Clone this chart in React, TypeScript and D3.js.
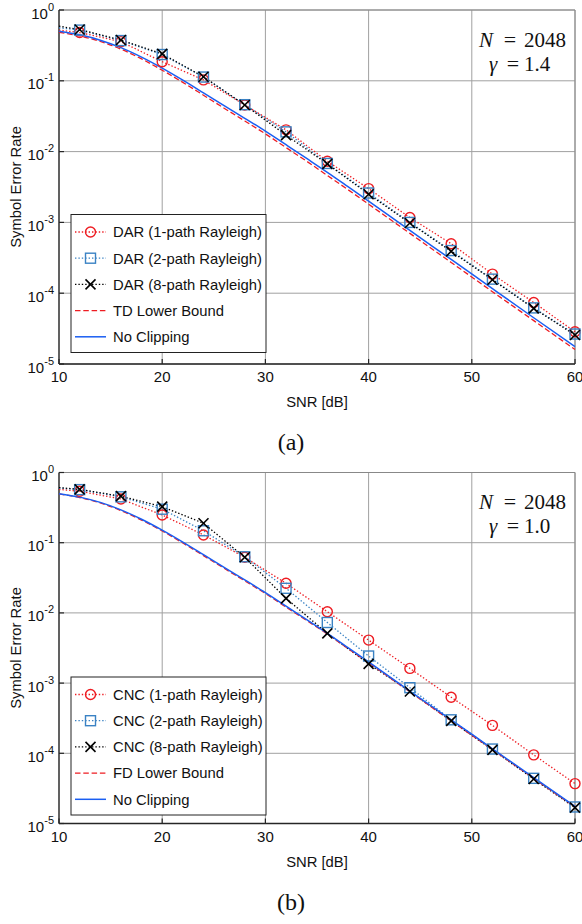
import React from 'react';
import * as d3 from 'd3';

// ---------- data ----------
const snrMarked = [10, 12, 16, 20, 24, 28, 32, 36, 40, 44, 48, 52, 56, 60];
const snrFine = [10, 12, 14, 16, 18, 20, 22, 24, 26, 28, 30, 32, 34, 36, 38, 40, 44, 48, 52, 56, 60];

const darPath1 = [0.52, 0.48, 0.357, 0.186, 0.103, 0.0455, 0.0203, 0.0073, 0.003, 0.00117, 0.0005, 0.000186, 7.4e-5, 2.85e-5];
const darPath2 = [0.56, 0.52, 0.37, 0.235, 0.113, 0.046, 0.019, 0.0068, 0.0026, 0.001, 0.0004, 0.000158, 6.2e-5, 2.65e-5];
const darPath8 = [0.59, 0.53, 0.377, 0.24, 0.114, 0.0455, 0.0171, 0.0067, 0.0025, 0.00098, 0.00039, 0.000155, 6.1e-5, 2.57e-5];

const cncPath1 = [0.575, 0.54, 0.42, 0.248, 0.129, 0.062, 0.0264, 0.0104, 0.0041, 0.00162, 0.00063, 0.00025, 9.5e-5, 3.7e-5];
const cncPath2 = [0.6, 0.57, 0.45, 0.3, 0.148, 0.063, 0.0224, 0.0073, 0.00243, 0.00086, 0.0003, 0.000115, 4.4e-5, 1.72e-5];
const cncPath8 = [0.61, 0.575, 0.46, 0.326, 0.189, 0.062, 0.0161, 0.0051, 0.00188, 0.00076, 0.00029, 0.000112, 4.3e-5, 1.68e-5];

const noClipping = [0.5, 0.446, 0.375, 0.294, 0.216, 0.151, 0.102, 0.0675, 0.0445, 0.0295, 0.0195, 0.0125, 0.008, 0.0051, 0.0032, 0.002, 0.00077, 0.0003, 0.000116, 4.5e-5, 1.76e-5];
const tdBound = [0.485, 0.43, 0.36, 0.28, 0.204, 0.141, 0.095, 0.0625, 0.041, 0.0271, 0.0178, 0.0114, 0.0073, 0.0046, 0.0029, 0.00181, 0.0007, 0.000272, 0.000105, 4.1e-5, 1.6e-5];
const fdBound = [0.495, 0.44, 0.368, 0.287, 0.21, 0.147, 0.099, 0.0655, 0.0432, 0.0286, 0.0189, 0.0121, 0.0078, 0.005, 0.0031, 0.00195, 0.00075, 0.00029, 0.000113, 4.4e-5, 1.72e-5];

const xTicks = [10, 20, 30, 40, 50, 60];
const yTickExps = [0, -1, -2, -3, -4, -5];

const legendA = ['DAR (1-path Rayleigh)', 'DAR (2-path Rayleigh)', 'DAR (8-path Rayleigh)', 'TD Lower Bound', 'No Clipping'];
const legendB = ['CNC (1-path Rayleigh)', 'CNC (2-path Rayleigh)', 'CNC (8-path Rayleigh)', 'FD Lower Bound', 'No Clipping'];

const xLabel = 'SNR [dB]';
const yLabel = 'Symbol Error Rate';
const nText = '2048';

// ---------- styles ----------
const RED = '#ee1c22';
const SQBLUE = '#3a82c4';
const LINEBLUE = '#1a5ef2';
const BLACK = '#000';
const SANS = '"Liberation Sans", Arial, Helvetica, sans-serif';
const SERIF = '"Liberation Serif", "Times New Roman", Times, serif';

type Marker = 'circle' | 'square' | 'x' | 'none';

function MarkerGlyph({ kind, x, y, color }: { kind: Marker; x: number; y: number; color: string }) {
  const s = 5;
  if (kind === 'circle') return <circle cx={x} cy={y} r={s} fill="none" stroke={color} strokeWidth={1.4} />;
  if (kind === 'square') return <rect x={x - s} y={y - s} width={2 * s} height={2 * s} fill="none" stroke={color} strokeWidth={1.4} />;
  if (kind === 'x')
    return (
      <g stroke={color} strokeWidth={1.6}>
        <line x1={x - s} y1={y - s} x2={x + s} y2={y + s} />
        <line x1={x - s} y1={y + s} x2={x + s} y2={y - s} />
      </g>
    );
  return null;
}

interface SeriesDef {
  xs: number[];
  ys: number[];
  color: string;
  dash: string;
  width: number;
  marker: Marker;
  smooth: boolean;
}

function Panel({ top, bottom, series, legend, gamma, caption }: {
  top: number; bottom: number; series: SeriesDef[]; legend: string[]; gamma: string; caption: string;
}) {
  const left = 59;
  const right = 575;
  const x = d3.scaleLinear().domain([10, 60]).range([left, right]);
  const y = d3.scaleLog().domain([1, 1e-5]).range([top, bottom]);
  const straight = d3.line<[number, number]>().x(d => x(d[0])).y(d => y(d[1]));
  const smooth = d3.line<[number, number]>().x(d => x(d[0])).y(d => y(d[1])).curve(d3.curveMonotoneX);

  const lgTop = top + 204.5;
  const lgLeft = 71;
  const lgW = 195;
  const lgH = 138;
  const rowGap = 26.2;

  return (
    <g>
      {/* grid */}
      {xTicks.map(t => (
        <line key={'gx' + t} x1={x(t)} x2={x(t)} y1={top} y2={bottom} stroke="#a0a0a0" strokeWidth={1} />
      ))}
      {yTickExps.map(e => (
        <line key={'gy' + e} x1={left} x2={right} y1={y(Math.pow(10, e))} y2={y(Math.pow(10, e))} stroke="#a0a0a0" strokeWidth={1} />
      ))}
      {/* box */}
      <line x1={left} x2={right} y1={top} y2={top} stroke="#888" strokeWidth={1} />
      <line x1={right} x2={right} y1={top} y2={bottom} stroke="#888" strokeWidth={1} />
      <line x1={left} x2={left} y1={top} y2={bottom} stroke="#262626" strokeWidth={1.3} />
      <line x1={left} x2={right} y1={bottom} y2={bottom} stroke="#262626" strokeWidth={1.3} />
      {/* ticks */}
      {xTicks.map(t => (
        <line key={'tx' + t} x1={x(t)} x2={x(t)} y1={bottom} y2={bottom - 5} stroke="#262626" strokeWidth={1.2} />
      ))}
      {yTickExps.map(e => (
        <line key={'ty' + e} x1={left} x2={left + 5} y1={y(Math.pow(10, e))} y2={y(Math.pow(10, e))} stroke="#262626" strokeWidth={1.2} />
      ))}
      {/* tick labels */}
      {xTicks.map(t => (
        <text key={'lx' + t} x={x(t)} y={bottom + 18} textAnchor="middle" fontFamily={SANS} fontSize={15} fill="#111">{t}</text>
      ))}
      {yTickExps.map(e => (
        <text key={'ly' + e} x={54} y={y(Math.pow(10, e)) + 8.5} textAnchor="end" fontFamily={SANS} fontSize={15} fill="#111">
          10<tspan dy={-8} fontSize={11}>{e === 0 ? '0' : '-' + Math.abs(e)}</tspan>
        </text>
      ))}
      {/* axis labels */}
      <text x={(left + right) / 2} y={bottom + 43} textAnchor="middle" fontFamily={SANS} fontSize={14.8} fill="#111">{xLabel}</text>
      <text transform={`translate(21,${(top + bottom) / 2}) rotate(-90)`} textAnchor="middle" fontFamily={SANS} fontSize={14.8} fill="#111">{yLabel}</text>

      {/* series */}
      {series.map((s, i) => {
        const pts = s.xs.map((v, j) => [v, s.ys[j]] as [number, number]);
        const d = (s.smooth ? smooth(pts) : straight(pts)) || '';
        return <path key={'s' + i} d={d} fill="none" stroke={s.color} strokeWidth={s.width} strokeDasharray={s.dash} />;
      })}
      {series.map((s, i) =>
        s.marker === 'none' ? null : s.xs.map((v, j) => (v === 10 ? null : <MarkerGlyph key={'m' + i + '_' + j} kind={s.marker} x={x(v)} y={y(s.ys[j])} color={s.color} />))
      )}

      {/* annotation */}
      <text x={479} y={top + 36.5} fontFamily={SERIF} fontSize={21} fontStyle="italic" fill="#111">N</text>
      <text x={510} y={top + 36.5} fontFamily={SERIF} fontSize={22} textAnchor="middle" fill="#111">=</text>
      <text x={524} y={top + 36.5} fontFamily={SERIF} fontSize={21} fill="#111">{nText}</text>
      <text x={489} y={top + 60.5} fontFamily={SERIF} fontSize={21} fontStyle="italic" fill="#111">γ</text>
      <text x={513} y={top + 60.5} fontFamily={SERIF} fontSize={22} textAnchor="middle" fill="#111">=</text>
      <text x={524} y={top + 60.5} fontFamily={SERIF} fontSize={21} fill="#111">{gamma}</text>

      {/* legend */}
      <rect x={lgLeft} y={lgTop} width={lgW} height={lgH} fill="#fff" stroke="#222" strokeWidth={1} />
      {series.map((s, i) => {
        const ry = lgTop + 17.5 + i * rowGap;
        return (
          <g key={'lg' + i}>
            <line x1={75} x2={106} y1={ry} y2={ry} stroke={s.color} strokeWidth={s.width} strokeDasharray={s.dash} />
            <MarkerGlyph kind={s.marker} x={90.5} y={ry} color={s.color} />
            <text x={113} y={ry + 5.3} fontFamily={SANS} fontSize={14.8} fill="#111">{legend[i]}</text>
          </g>
        );
      })}

      {/* caption */}
      <text x={291} y={bottom + 86} textAnchor="middle" fontFamily={SERIF} fontSize={24} fill="#111">{caption}</text>
    </g>
  );
}

export default function App() {
  const dot = '1.4 2';
  const dash = '5.5 2.8';
  const seriesA: SeriesDef[] = [
    { xs: snrMarked, ys: darPath1, color: RED, dash: dot, width: 1.3, marker: 'circle', smooth: false },
    { xs: snrMarked, ys: darPath2, color: SQBLUE, dash: dot, width: 1.3, marker: 'square', smooth: false },
    { xs: snrMarked, ys: darPath8, color: BLACK, dash: dot, width: 1.3, marker: 'x', smooth: false },
    { xs: snrFine, ys: tdBound, color: RED, dash: dash, width: 1.3, marker: 'none', smooth: true },
    { xs: snrFine, ys: noClipping, color: LINEBLUE, dash: '', width: 1.5, marker: 'none', smooth: true },
  ];
  const seriesB: SeriesDef[] = [
    { xs: snrMarked, ys: cncPath1, color: RED, dash: dot, width: 1.3, marker: 'circle', smooth: false },
    { xs: snrMarked, ys: cncPath2, color: SQBLUE, dash: dot, width: 1.3, marker: 'square', smooth: false },
    { xs: snrMarked, ys: cncPath8, color: BLACK, dash: dot, width: 1.3, marker: 'x', smooth: false },
    { xs: snrFine, ys: fdBound, color: RED, dash: dash, width: 1.3, marker: 'none', smooth: true },
    { xs: snrFine, ys: noClipping, color: LINEBLUE, dash: '', width: 1.5, marker: 'none', smooth: true },
  ];
  return (
    <svg width={582} height={924} style={{ position: 'absolute', left: 0, top: 0, background: '#fff' }}>
      <rect x={0} y={0} width={582} height={924} fill="#fff" />
      <Panel top={10} bottom={364} series={seriesA} legend={legendA} gamma="1.4" caption="(a)" />
      <Panel top={472.5} bottom={823.5} series={seriesB} legend={legendB} gamma="1.0" caption="(b)" />
    </svg>
  );
}
